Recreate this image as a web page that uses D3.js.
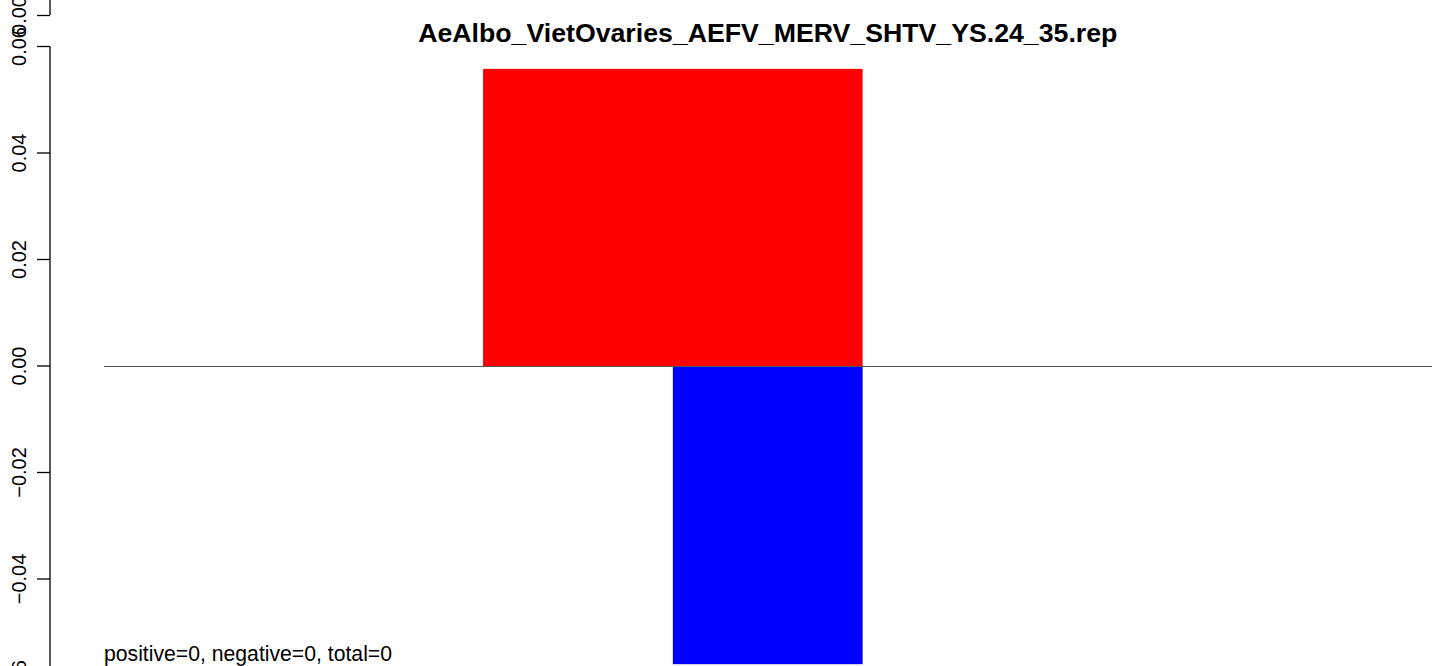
<!DOCTYPE html>
<html>
<head>
<meta charset="utf-8">
<script src="https://cdn.jsdelivr.net/npm/d3@7"></script>
<style>
  body { margin: 0; background: #fff; }
  text { font-family: "Liberation Sans", Arial, Helvetica, sans-serif; fill: #000; }
</style>
</head>
<body>
<svg id="chart" width="1441" height="666"></svg>
<script>
// chart data
const chartTitle = "AeAlbo_VietOvaries_AEFV_MERV_SHTV_YS.24_35.rep";
const footNote = "positive=0, negative=0, total=0";
const barNames = ["positive", "negative"];
const barStarts = [1, 1.5];
const barEnds = [2, 2];
const barValues = [0.0558, -0.056];
const barColors = ["#ff0000", "#0000ff"];
const yTicks = [-0.06, -0.04, -0.02, 0, 0.02, 0.04, 0.06];
const upperTicks = [0];

const svg = d3.select("#chart");

const x = d3.scaleLinear()
  .domain([0, 3.5])
  .range([103.5, 1432]);

const y = d3.scaleLinear()
  .domain([-0.06, 0.06])
  .range([685.5, 46.5]);

// bars
svg.selectAll(".bar")
  .data(barNames)
  .enter()
  .append("rect")
  .attr("class", "bar")
  .attr("x", (d, i) => x(barStarts[i]))
  .attr("width", (d, i) => x(barEnds[i]) - x(barStarts[i]))
  .attr("y", (d, i) => y(Math.max(0, barValues[i])))
  .attr("height", (d, i) => Math.abs(y(barValues[i]) - y(0)))
  .attr("fill", (d, i) => barColors[i]);

// zero line
svg.append("line")
  .attr("x1", x(0))
  .attr("x2", x(3.5))
  .attr("y1", y(0) + 0.5)
  .attr("y2", y(0) + 0.5)
  .attr("stroke", "#555")
  .attr("stroke-width", 1)
  .attr("shape-rendering", "crispEdges");

// y axis, R style
const yAxis = svg.append("g")
  .attr("transform", "translate(50,0)")
  .call(d3.axisLeft(y)
    .tickValues(yTicks)
    .tickSize(13)
    .tickFormat(d => d3.format(".2f")(d).replace("-", "\u2212")));

yAxis.select(".domain")
  .attr("d", `M0,${y(0.06)}V${y(-0.06)}`)
  .attr("stroke", "#000")
  .attr("stroke-width", 1.3);

yAxis.selectAll(".tick").attr("transform", null);

yAxis.selectAll(".tick line")
  .attr("y1", d => y(d))
  .attr("y2", d => y(d))
  .attr("stroke-width", 1.3);

yAxis.selectAll(".tick text")
  .attr("x", 0)
  .attr("y", 0)
  .attr("dy", "0.35em")
  .attr("text-anchor", "middle")
  .attr("transform", d => `translate(-31,${y(d)}) rotate(-90)`)
  .style("font-size", "20px");

// leftover axis piece from the panel above
const yUpper = d3.scaleLinear()
  .domain([0, 0.06])
  .range([15, -304]);

const upperAxis = svg.append("g")
  .attr("transform", "translate(50,0)")
  .call(d3.axisLeft(yUpper)
    .tickValues(upperTicks)
    .tickSize(13)
    .tickFormat(d => d3.format(".2f")(d)));

upperAxis.select(".domain")
  .attr("d", `M0,${yUpper(0)}V-10`)
  .attr("stroke", "#000")
  .attr("stroke-width", 1.3);

upperAxis.selectAll(".tick line").attr("stroke-width", 1.3);

upperAxis.selectAll(".tick text")
  .attr("x", 0)
  .attr("y", 0)
  .attr("dy", "0.35em")
  .attr("text-anchor", "middle")
  .attr("transform", "translate(-31,0) rotate(-90)")
  .style("font-size", "20px");

// title
svg.append("text")
  .attr("x", (x(0) + x(3.5)) / 2)
  .attr("y", 42)
  .attr("text-anchor", "middle")
  .style("font-size", "26.7px")
  .style("font-weight", "bold")
  .text(chartTitle);

// footnote
svg.append("text")
  .attr("x", 104)
  .attr("y", 661)
  .style("font-size", "21.2px")
  .text(footNote);
</script>
</body>
</html>
